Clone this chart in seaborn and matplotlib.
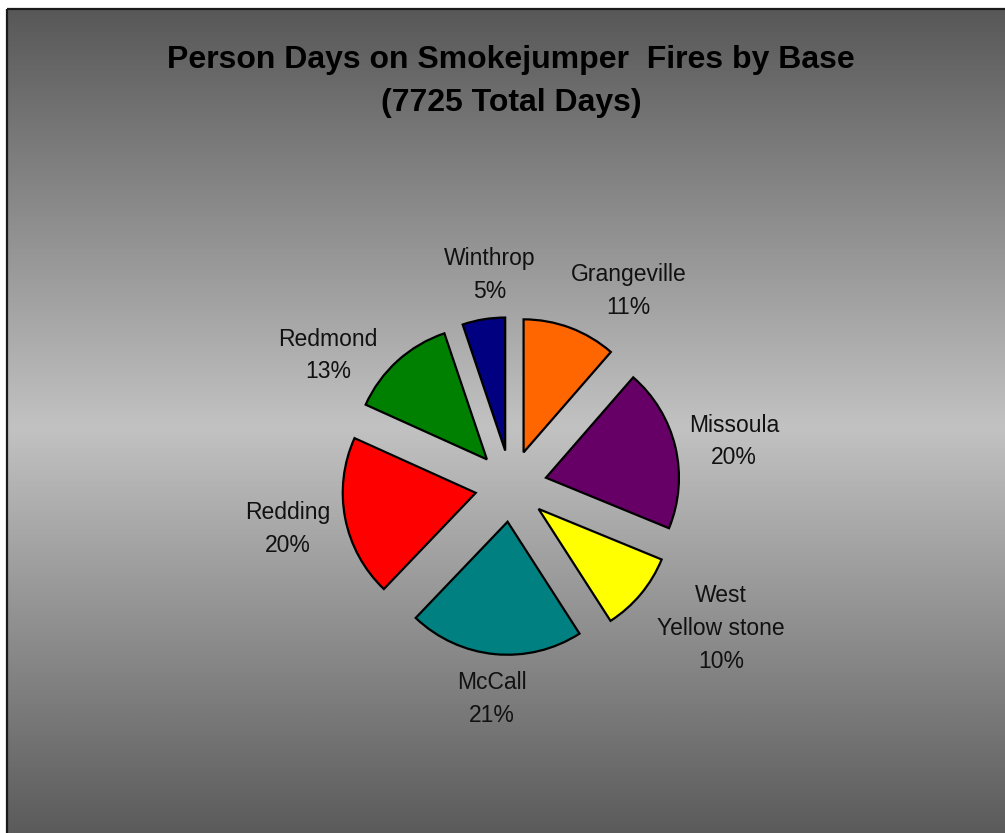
import numpy as np
import matplotlib
matplotlib.use("Agg")
import matplotlib.pyplot as plt
from matplotlib.patches import Rectangle
import seaborn as sns

# Person days per smokejumper base (7725 total)
bases = ["Grangeville", "Missoula", "West\nYellow stone", "McCall", "Redding", "Redmond", "Winthrop"]
person_days = [880, 1530, 750, 1640, 1515, 1010, 400]
slice_colors = ["#FF6600", "#660066", "#FFFF00", "#008080", "#FF0000", "#008000", "#000080"]
title_text = "Person Days on Smokejumper  Fires by Base\n(7725 Total Days)"

# best-fit label nudges in pixels (right, down)
label_nudge = [(38, 18), (2, 8), (35, -3), (3, -13), (0, 0), (-30, 38), (16, 13)]

sns.set_theme(style="white")
plt.rcParams["font.family"] = ["Liberation Sans", "DejaVu Sans"]

W, H, DPI = 1005, 833, 100
fig = plt.figure(figsize=(W / DPI, H / DPI), dpi=DPI)
fig.patch.set_facecolor("white")

# Background panel: vertical grey gradient, dark at top and bottom, light in the middle
bg = fig.add_axes([0, 0, 1, 1])
bg.set_xlim(0, W)
bg.set_ylim(H, 0)
bg.axis("off")
top, bottom = 9, 845
ys = np.linspace(0, 1, 400)
shade = 0.345 + (0.76 - 0.345) * (1 - np.abs(ys - 0.5) * 2)
grad = np.repeat(shade[:, None], 2, axis=1)
bg.imshow(grad, cmap="gray", vmin=0, vmax=1, aspect="auto",
          extent=[7, W + 10, bottom, top], interpolation="bicubic", zorder=0)
bg.add_patch(Rectangle((7, top), W + 10, bottom - top, fill=False,
                       edgecolor="#1a1a1a", linewidth=1.6, zorder=1))

# Title
fig.text(511 / W, 1 - 81.5 / H, title_text, ha="center", va="center",
         fontsize=23, fontweight="bold", color="black", linespacing=1.6)

# Pie axes: square in pixels, centred on the pie
cx, cy, r_px = 511, 486, 133
half = 300
ax = fig.add_axes([(cx - half) / W, 1 - (cy + half) / H, 2 * half / W, 2 * half / H])

total = sum(person_days)
labels = [f"{b}\n{round(100 * v / total)}%" for b, v in zip(bases, person_days)]
wedges, texts = ax.pie(person_days, colors=slice_colors, startangle=90, counterclock=False,
                       explode=[0.27] * len(person_days), labels=labels, labeldistance=1.44,
                       radius=1, wedgeprops=dict(edgecolor="black", linewidth=1.6),
                       textprops=dict(fontsize=16.5, color="#111111"))
for t, (dx, dy) in zip(texts, label_nudge):
    x, y = t.get_position()
    t.set_position((x + dx / r_px, y - dy / r_px))
    t.set_ha("center")
    t.set_va("center")
    t.set_linespacing(1.55)
ax.set_xlim(-half / r_px, half / r_px)
ax.set_ylim(-half / r_px, half / r_px)
ax.axis("off")

fig.savefig("out.png", dpi=DPI, facecolor=fig.get_facecolor())
